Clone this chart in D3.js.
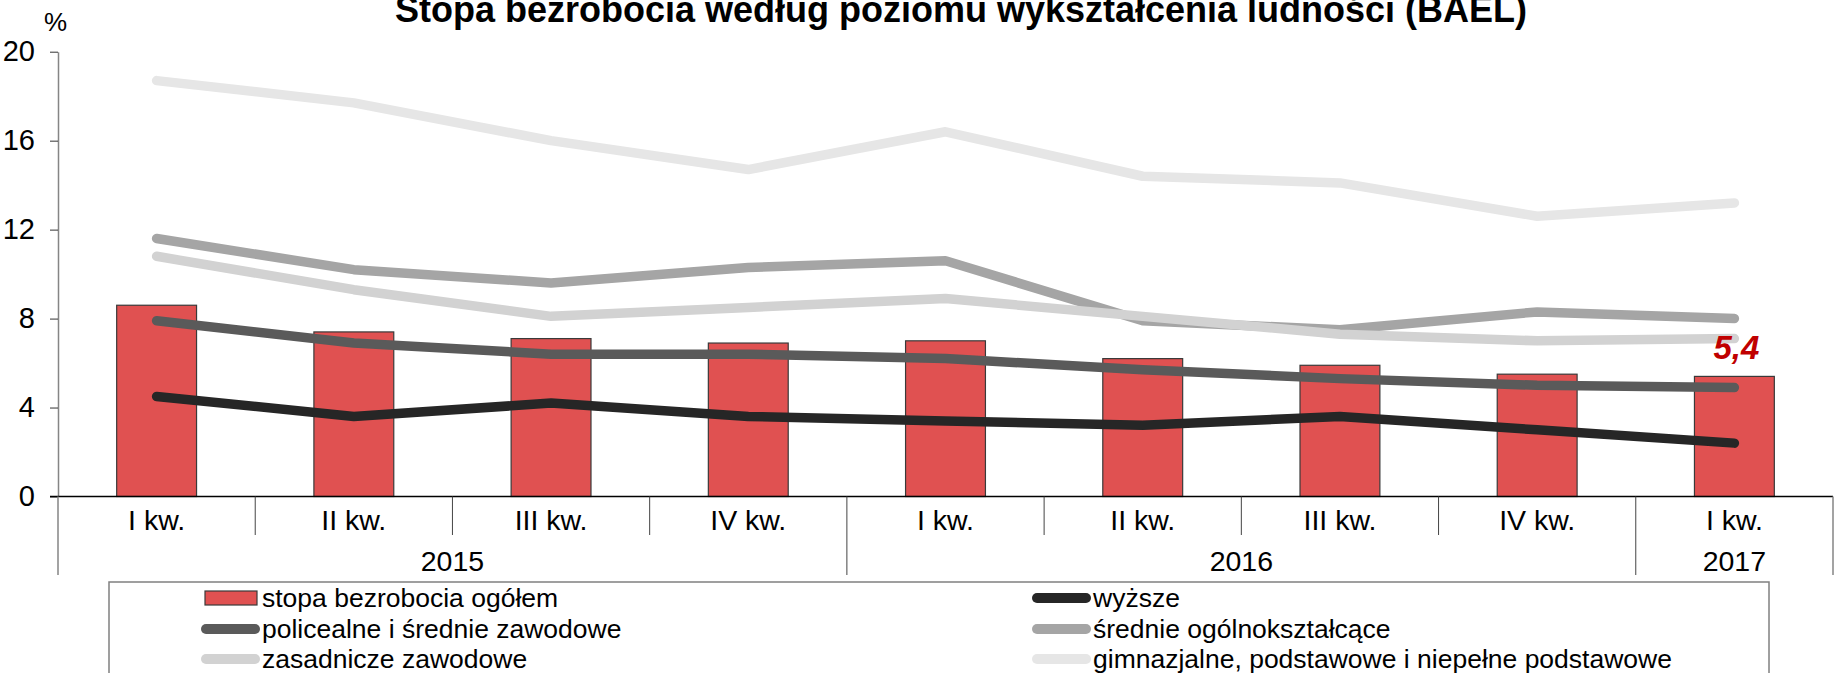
<!DOCTYPE html>
<html>
<head>
<meta charset="utf-8">
<script src="https://cdn.jsdelivr.net/npm/d3@7.9.0/dist/d3.min.js"></script>
<style>
  html, body { margin: 0; padding: 0; background: #fff; }
  svg { display: block; font-family: Arial, "Liberation Sans", sans-serif; }
</style>
</head>
<body>
<svg id="chart" width="1843" height="673"></svg>
<script>
const quarters = ['I kw.', 'II kw.', 'III kw.', 'IV kw.', 'I kw.', 'II kw.', 'III kw.', 'IV kw.', 'I kw.'];
const years = ['2015', '2016', '2017'];
const yearSpans = [4, 4, 1];
const yTicks = [0, 4, 8, 12, 16, 20];

const ogolem = [8.6, 7.4, 7.1, 6.9, 7.0, 6.2, 5.9, 5.5, 5.4];
const wyzsze = [4.5, 3.6, 4.2, 3.6, 3.4, 3.2, 3.6, 3.0, 2.4];
const policealne = [7.9, 6.9, 6.4, 6.4, 6.2, 5.7, 5.3, 5.0, 4.9];
const srednieOgolne = [11.6, 10.2, 9.6, 10.3, 10.6, 7.9, 7.5, 8.3, 8.0];
const zasadnicze = [10.8, 9.3, 8.1, 8.5, 8.9, 8.1, 7.3, 7.0, 7.1];
const gimnazjalne = [18.7, 17.7, 16.0, 14.7, 16.4, 14.4, 14.1, 12.6, 13.2];

const lineSeries = [
  { name: 'wyższe', values: wyzsze, color: '#262626' },
  { name: 'policealne i średnie zawodowe', values: policealne, color: '#5a5a5a' },
  { name: 'średnie ogólnokształcące', values: srednieOgolne, color: '#a5a5a5' },
  { name: 'zasadnicze zawodowe', values: zasadnicze, color: '#d2d2d2' },
  { name: 'gimnazjalne, podstawowe i niepełne podstawowe', values: gimnazjalne, color: '#e6e6e6' },
];

const svg = d3.select('#chart');
const plotLeft = 58, plotRight = 1833, plotTop = 51.7, plotBottom = 496.5;

const x = d3.scaleBand().domain(d3.range(quarters.length)).range([plotLeft, plotRight]).padding(0);
const y = d3.scaleLinear().domain([0, 20]).range([plotBottom, plotTop]);
const cx = (i) => x(i) + x.bandwidth() / 2;

// title (cut at the top edge, like the original)
svg.append('text')
  .attr('x', 961).attr('y', 22)
  .attr('text-anchor', 'middle')
  .attr('font-size', 36).attr('font-weight', 'bold')
  .text('Stopa bezrobocia według poziomu wykształcenia ludności (BAEL)');

svg.append('text')
  .attr('x', 44).attr('y', 31)
  .attr('font-size', 26)
  .text('%');

// y axis
const yAxis = svg.append('g')
  .attr('transform', `translate(${plotLeft},0)`)
  .call(d3.axisLeft(y).tickValues(yTicks).tickSize(8).tickSizeOuter(0).tickPadding(15));
yAxis.select('.domain').attr('stroke', '#858585').attr('stroke-width', 1.5);
yAxis.selectAll('.tick line').attr('stroke', '#333');
yAxis.selectAll('.tick text').attr('font-size', 29).attr('fill', '#000')
  .attr('font-family', 'Arial, "Liberation Sans", sans-serif');

// bars
const barW = x.bandwidth() * 0.405;
svg.append('g').selectAll('rect')
  .data(ogolem)
  .join('rect')
  .attr('x', (d, i) => cx(i) - barW / 2)
  .attr('y', d => y(d))
  .attr('width', barW)
  .attr('height', d => y(0) - y(d))
  .attr('fill', '#e05151')
  .attr('stroke', '#3a3a3a')
  .attr('stroke-width', 1.2);

// x axis frame
const xg = svg.append('g');
xg.append('line')
  .attr('x1', plotLeft - 8).attr('x2', plotRight)
  .attr('y1', y(0)).attr('y2', y(0))
  .attr('stroke', '#000').attr('stroke-width', 1.5);
xg.append('line')
  .attr('x1', plotLeft).attr('x2', plotLeft)
  .attr('y1', y(0)).attr('y2', 575)
  .attr('stroke', '#858585').attr('stroke-width', 1.5);

const yearBounds = d3.cumsum(yearSpans);
const bounds = d3.range(1, quarters.length + 1);
xg.selectAll('line.sep')
  .data(bounds)
  .join('line')
  .attr('class', 'sep')
  .attr('x1', i => x.step() * i + plotLeft).attr('x2', i => x.step() * i + plotLeft)
  .attr('y1', y(0))
  .attr('y2', i => yearBounds.includes(i) ? 575 : 535)
  .attr('stroke', i => i === quarters.length ? '#858585' : '#444')
  .attr('stroke-width', i => i === quarters.length ? 1.5 : 1);

xg.selectAll('text.q')
  .data(quarters)
  .join('text')
  .attr('class', 'q')
  .attr('x', (d, i) => cx(i)).attr('y', 530)
  .attr('text-anchor', 'middle')
  .attr('font-size', 28.5)
  .text(d => d);

const yearStarts = [0, ...Array.from(yearBounds).slice(0, -1)];
xg.selectAll('text.yr')
  .data(years)
  .join('text')
  .attr('class', 'yr')
  .attr('x', (d, i) => plotLeft + x.step() * (yearStarts[i] + yearSpans[i] / 2))
  .attr('y', 571)
  .attr('text-anchor', 'middle')
  .attr('font-size', 28.5)
  .text(d => d);

// lines
const line = d3.line().x((d, i) => cx(i)).y(d => y(d));
svg.append('g').selectAll('path')
  .data(lineSeries)
  .join('path')
  .attr('d', d => line(d.values))
  .attr('fill', 'none')
  .attr('stroke', d => d.color)
  .attr('stroke-width', 9.5)
  .attr('stroke-linecap', 'round')
  .attr('stroke-linejoin', 'round');

// last value label
const last = ogolem.length - 1;
svg.append('text')
  .attr('x', cx(last) + 2).attr('y', 359)
  .attr('text-anchor', 'middle')
  .attr('font-size', 33).attr('font-weight', 'bold').attr('font-style', 'italic')
  .attr('fill', '#c00000')
  .text(String(ogolem[last]).replace('.', ','));

// legend
svg.append('rect')
  .attr('x', 109).attr('y', 582)
  .attr('width', 1660).attr('height', 120)
  .attr('fill', 'none').attr('stroke', '#808080').attr('stroke-width', 1.5);

const legendItems = [
  { name: 'stopa bezrobocia ogółem', bar: true },
  ...lineSeries,
];
const colX = [201, 1032];
const rowY = [598, 629, 659];
const lg = svg.append('g').selectAll('g')
  .data(legendItems)
  .join('g')
  .attr('transform', (d, i) => `translate(${colX[i % 2]},${rowY[Math.floor(i / 2)]})`);

lg.filter(d => d.bar).append('rect')
  .attr('x', 4).attr('y', -7).attr('width', 52).attr('height', 14)
  .attr('fill', '#e05151').attr('stroke', '#3a3a3a').attr('stroke-width', 1.2);
lg.filter(d => !d.bar).append('line')
  .attr('x1', 5).attr('x2', 54).attr('y1', 0).attr('y2', 0)
  .attr('stroke', d => d.color).attr('stroke-width', 10).attr('stroke-linecap', 'round');
lg.append('text')
  .attr('x', 61).attr('y', 0).attr('dy', '0.35em')
  .attr('font-size', 26.5)
  .text(d => d.name);
</script>
</body>
</html>
